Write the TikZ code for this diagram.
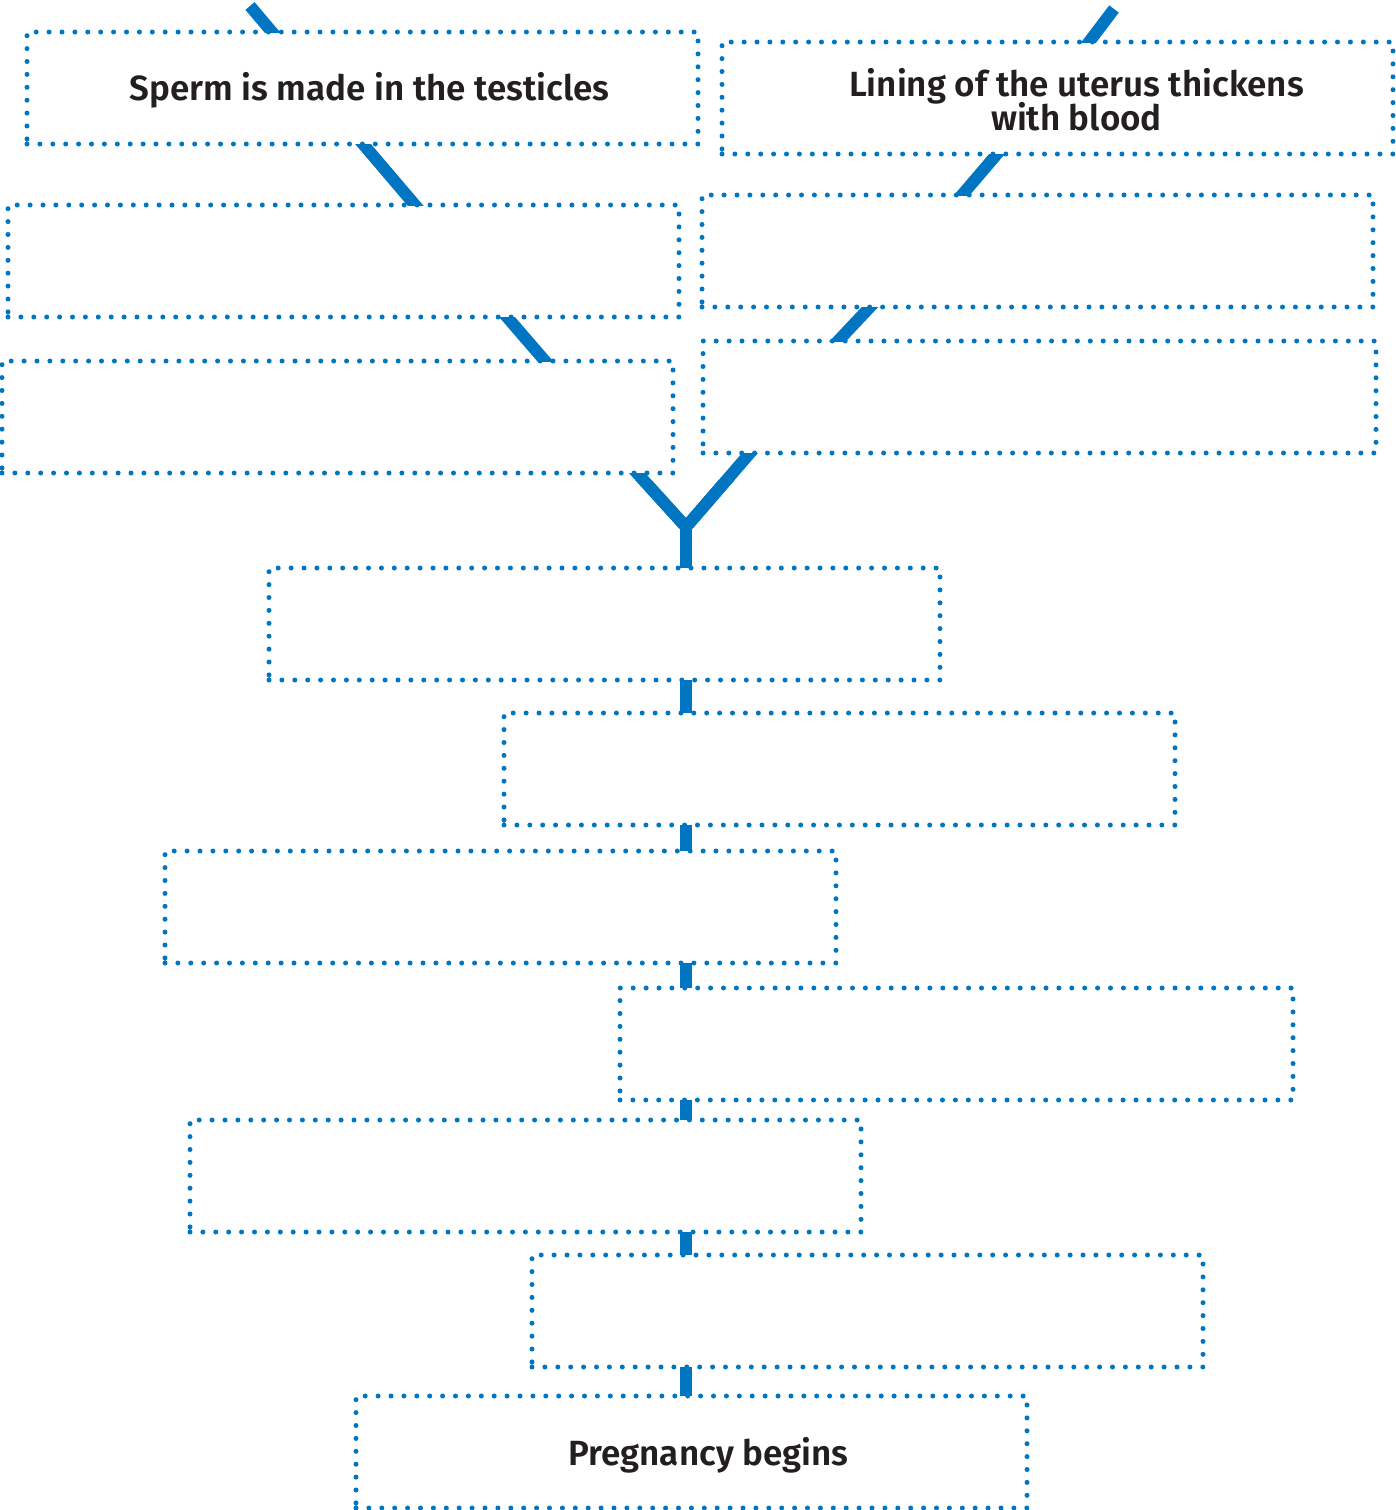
\documentclass[tikz,border=0pt]{standalone}
\usepackage{fontspec}
\setmainfont{Fira Sans}[BoldFont={Fira Sans SemiBold}]
\definecolor{flowblue}{HTML}{0075C2}
\definecolor{txt}{HTML}{231F20}
\tikzset{
  dotbox/.style={draw=flowblue, line width=5pt, line cap=round,
    dash pattern=on 0pt off 12.9pt, minimum width=671pt, minimum height=112pt,
    anchor=north west, inner sep=0pt, outer sep=0pt},
  boxtext/.style={align=center, text=txt, inner sep=0pt,
    font=\fontsize{35}{34}\selectfont\bfseries},
  link/.style={draw=flowblue, line width=12pt, shorten <=-8pt, shorten >=-8pt},
  stub/.style={draw=flowblue, line width=12pt}
}
\begin{document}
\begin{tikzpicture}[x=1pt,y=-1pt]
\useasboundingbox (0,0) rectangle (1396,1510);
\fill[white] (0,0) rectangle (1396,1510);
% boxes
\node[dotbox] (sperm) at (27,32) {};
\node[dotbox] (lining) at (722,42) {};
\node[dotbox] (l2) at (8,205) {};
\node[dotbox] (r2) at (702,195) {};
\node[dotbox] (l3) at (2,361) {};
\node[dotbox, minimum width=673pt] (r3) at (703,341) {};
\node[dotbox] (c1) at (269,568) {};
\node[dotbox] (c2) at (504,713) {};
\node[dotbox] (c3) at (165,851) {};
\node[dotbox, minimum width=673pt] (c4) at (620,988) {};
\node[dotbox] (c5) at (190,1120) {};
\node[dotbox] (c6) at (532,1255) {};
\node[dotbox] (preg) at (356,1396) {};
% texts
\node[boxtext] (spermtxt) at ([xshift=7pt,yshift=-2pt]sperm.center) {Sperm is made in the testicles};
\node[boxtext] (liningtxt) at ([xshift=19pt,yshift=-2pt]lining.center) {Lining of the uterus thickens\\[-3pt]with blood};
\node[boxtext] (pregtxt) at ([xshift=17pt,yshift=-3pt]preg.center) {Pregnancy begins};
% free ends
\coordinate (ltop) at (250,6);
\coordinate (rtop) at (1114,9);
\coordinate (ymeet) at (686,527);
% diagonal connectors, cut flat at the box edges
\begin{scope}
  \clip (0,0) rectangle (sperm.north east);
  \draw[link, shorten <=0pt] (ltop) -- ([xshift=245pt]sperm.north west);
\end{scope}
\begin{scope}
  \clip (722,0) rectangle (lining.north east);
  \draw[link, shorten <=0pt] (rtop) -- ([xshift=367pt]lining.north west);
\end{scope}
\begin{scope}
  \clip (sperm.south west) rectangle (l2.north east);
  \draw[link] ([xshift=336pt]sperm.south west) -- ([xshift=407pt]l2.north west);
\end{scope}
\begin{scope}
  \clip (l2.south west) rectangle (l2.south east |- l3.north);
  \draw[link] ([xshift=499pt]l2.south west) -- ([xshift=543pt]l3.north west);
\end{scope}
\begin{scope}
  \clip (r2.north west |- lining.south) rectangle (r2.north east);
  \draw[link] ([xshift=275pt]lining.south west) -- ([xshift=260pt]r2.north west);
\end{scope}
\begin{scope}
  \clip (r2.south west) rectangle (r2.south east |- r3.north);
  \draw[link] ([xshift=168pt]r2.south west) -- ([xshift=135pt]r3.north west);
\end{scope}
\begin{scope}
  \clip (l3.south west) rectangle (ymeet);
  \draw[link, shorten >=0pt] ([xshift=635pt]l3.south west) -- (ymeet);
\end{scope}
\begin{scope}
  \clip (ymeet -| l3.south west) rectangle (r3.south east);
  \draw[link, shorten >=0pt, line join=miter] ([xshift=47pt]r3.south west) -- (ymeet);
\end{scope}
\begin{scope}
  \clip (l3.south west |- 0,480) rectangle (r3.south east |- c1.north);
  \draw[link, line join=miter, shorten <=0pt, shorten >=0pt]
    ([xshift=635pt]l3.south west) -- (ymeet) -- ([xshift=47pt]r3.south west);
\end{scope}
% vertical connectors
\draw[stub] (ymeet) -- (c1.north -| ymeet);
\draw[stub] (c1.south -| ymeet) -- (c2.north -| ymeet);
\draw[stub] (c2.south -| ymeet) -- (c3.north -| ymeet);
\draw[stub] (c3.south -| ymeet) -- (c4.north -| ymeet);
\draw[stub] (c4.south -| ymeet) -- (c5.north -| ymeet);
\draw[stub] (c5.south -| ymeet) -- (c6.north -| ymeet);
\draw[stub] (c6.south -| ymeet) -- (preg.north -| ymeet);
\end{tikzpicture}
\end{document}
